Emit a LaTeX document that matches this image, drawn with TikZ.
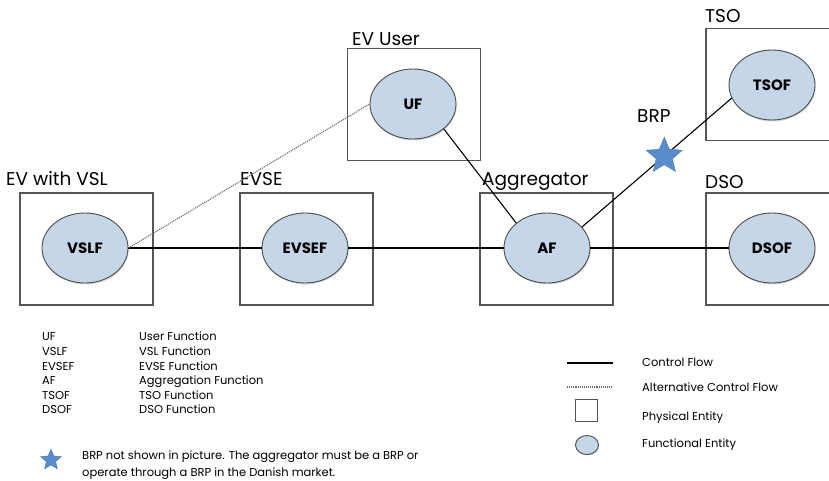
\documentclass[tikz,border=0pt]{standalone}
\usepackage{fontspec}
\setmainfont{Poppins}
\usepackage{xcolor}
\usetikzlibrary{shapes.geometric,shadows}
\definecolor{entityblue}{RGB}{197,214,232}
\definecolor{starblue}{RGB}{88,140,205}
\definecolor{boxgray}{RGB}{85,85,85}

\begin{document}
\begin{tikzpicture}[x=1pt, y=-1pt,
  physical/.style={rectangle, draw=boxgray, line width=1.1pt, minimum width=133pt, minimum height=112pt, inner sep=0pt},
  entity/.style={ellipse, draw=black!70, line width=0.9pt, fill=entityblue, minimum width=86pt, minimum height=70pt, inner sep=0pt,
    font=\fontsize{15}{17}\selectfont\bfseries, drop shadow={shadow xshift=0.6pt, shadow yshift=-1.5pt, opacity=0.3}},
  title/.style={anchor=base west, inner sep=0pt, font=\fontsize{18.5}{21}\selectfont},
  flow/.style={line width=1.1pt},
  altflow/.style={line width=1.1pt, densely dotted, black!60},
  legend/.style={anchor=base west, inner sep=0pt, font=\fontsize{11.5}{13}\selectfont},
  brpstar/.style={star, star points=5, star point ratio=2.2, fill=starblue, draw=starblue!80!black, line width=0.3pt, inner sep=0pt}]
  \clip (0,0) rectangle (829,480);
  \fill[white] (0,0) rectangle (829,480);

  \node[physical] (vslbox) at (86.5,249) {};
  \node[physical] (evsebox) at (306.5,249) {};
  \node[physical] (userbox) at (414,104.5) {};
  \node[physical] (aggbox) at (546.5,249) {};
  \node[physical] (tsobox) at (772.5,84.5) {};
  \node[physical] (dsobox) at (772.5,249) {};

  \node[title] (vsltitle) at (6,185) {EV with VSL};
  \node[title] (evsetitle) at (240,185) {EVSE};
  \node[title] (usertitle) at (352,45) {EV User};
  \node[title] (aggtitle) at (482,185) {Aggregator};
  \node[title] (tsotitle) at (705,22) {TSO};
  \node[title] (dsotitle) at (705,188) {DSO};
  \node[title] (brptitle) at (637,122) {BRP};

  \node[entity] (vslf) at (85,248) {VSLF};
  \node[entity] (evsef) at (305,248) {EVSEF};
  \node[entity] (uf) at (413,104) {UF};
  \node[entity] (af) at (547,248) {AF};
  \node[entity] (tsof) at (772,85) {TSOF};
  \node[entity] (dsof) at (772,248) {DSOF};

  \draw[flow] (vslf.east) -- (evsef.west);
  \draw[flow] (evsef.east) -- (af.west);
  \draw[flow] (af.east) -- (dsof.west);
  \draw[flow] (uf.-39) -- (af.141);
  \draw[altflow] (vslf.east) -- (uf.west);
  \draw[flow] (af.31) -- node[brpstar, pos=0.55, minimum size=38pt] (brp) {} (tsof.198);

  \node[legend] (ufkey) at (42,340.5) {UF};
  \node[legend] (vslfkey) at (42,355) {VSLF};
  \node[legend] (evsefkey) at (42,370) {EVSEF};
  \node[legend] (afkey) at (42,384.5) {AF};
  \node[legend] (tsofkey) at (42,399) {TSOF};
  \node[legend] (dsofkey) at (42,413.5) {DSOF};
  \node[legend] (ufdesc) at (139,340.5) {User Function};
  \node[legend] (vslfdesc) at (139,355) {VSL Function};
  \node[legend] (evsefdesc) at (139,370) {EVSE Function};
  \node[legend] (afdesc) at (139,384.5) {Aggregation Function};
  \node[legend] (tsofdesc) at (139,399) {TSO Function};
  \node[legend] (dsofdesc) at (139,413.5) {DSO Function};

  \node[brpstar, minimum size=22pt] (brpkey) at (51,460) {};
  \node[legend] (brpnote) at (82,459) {BRP not shown in picture. The aggregator must be a BRP or};
  \node[legend] (brpnote2) at (82,476) {operate through a BRP in the Danish market.};

  \coordinate (flowa) at (567,363);
  \coordinate (flowb) at (613,363);
  \coordinate (alta) at (567,387);
  \coordinate (altb) at (613,387);
  \draw[flow] (flowa) -- (flowb);
  \draw[altflow] (alta) -- (altb);
  \node[rectangle, draw=boxgray, line width=1pt, minimum size=22pt, inner sep=0pt] (physkey) at (586.5,410) {};
  \node[ellipse, draw=black!70, line width=0.9pt, fill=entityblue, minimum width=23pt, minimum height=19pt, inner sep=0pt,
    drop shadow={shadow xshift=0.4pt, shadow yshift=-1pt, opacity=0.3}] (funckey) at (587,445) {};
  \node[legend] (flowtext) at (642,366.5) {Control Flow};
  \node[legend] (alttext) at (642,391.5) {Alternative Control Flow};
  \node[legend] (phystext) at (642,420.5) {Physical Entity};
  \node[legend] (functext) at (642,447.5) {Functional Entity};
\end{tikzpicture}
\end{document}
